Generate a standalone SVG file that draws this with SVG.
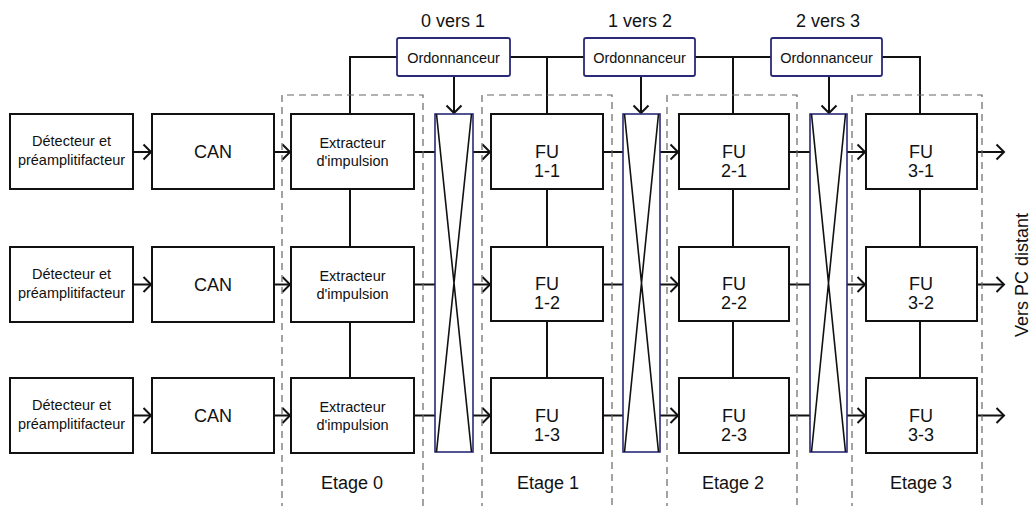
<svg xmlns="http://www.w3.org/2000/svg" width="1032" height="506" viewBox="0 0 1032 506">
<style>
.box{fill:#fff;stroke:#111;stroke-width:2}
.ordo{fill:#fff;stroke:#2a2a78;stroke-width:1.8}
.xbar{fill:#fff;stroke:#2a2a78;stroke-width:1.6}
.diag{stroke:#111;stroke-width:1.6;fill:none}
.ln{stroke:#111;stroke-width:2;fill:none}
.arr{stroke:#111;stroke-width:2;fill:none;marker-end:url(#ah)}
.dash{stroke:#666;stroke-width:1.2;fill:none;stroke-dasharray:7,5}
text{font-family:"Liberation Sans",Arial,sans-serif;fill:#111;text-anchor:middle}
.s{font-size:14.5px}
.m{font-size:18px}
</style>
<defs>
<marker id="ah" markerUnits="userSpaceOnUse" markerWidth="12" markerHeight="18" refX="9" refY="9" orient="auto">
<path d="M1.5,1.5 L9,9 L1.5,16.5" fill="none" stroke="#111" stroke-width="2"/>
</marker>
</defs>
<rect width="1032" height="506" fill="#fff"/>

<g id="transfer-labels">
<text class="m" x="453" y="27">0 vers 1</text>
<text class="m" x="640" y="27">1 vers 2</text>
<text class="m" x="828" y="27">2 vers 3</text>
<text class="m" transform="translate(1028,275) rotate(-90)">Vers PC distant</text>
</g>

<g id="connectors">
<path class="ln" d="M397,57 H350 V114"/>
<path class="ln" d="M510,57 H584 M547,57 V114"/>
<path class="ln" d="M695,57 H771 M733,57 V114"/>
<path class="ln" d="M882,57 H920 V114"/>
<path class="arr" d="M454,77 V113"/>
<path class="arr" d="M641,76 V113"/>
<path class="arr" d="M829,76 V113"/>
<path class="ln" d="M350,189 V247 M350,322 V378"/>
<path class="ln" d="M547,189 V247 M547,321 V378"/>
<path class="ln" d="M733,189 V247 M733,321 V378"/>
<path class="ln" d="M920,189 V247 M920,321 V378"/>

<path class="arr" d="M133,152 H151"/>
<path class="arr" d="M274,152 H290"/>
<path class="ln" d="M414,152 H435"/>
<path class="arr" d="M473,152 H490"/>
<path class="ln" d="M603,152 H623"/>
<path class="arr" d="M660,152 H678"/>
<path class="ln" d="M789,152 H810"/>
<path class="arr" d="M847,152 H865"/>
<path class="arr" d="M977,152 H1004"/>

<path class="arr" d="M133,284.5 H151"/>
<path class="arr" d="M274,284.5 H290"/>
<path class="ln" d="M414,284.5 H435"/>
<path class="arr" d="M473,284.5 H490"/>
<path class="ln" d="M603,284.5 H623"/>
<path class="arr" d="M660,284.5 H678"/>
<path class="ln" d="M789,284.5 H810"/>
<path class="arr" d="M847,284.5 H865"/>
<path class="arr" d="M977,284.5 H1004"/>

<path class="arr" d="M133,415.5 H151"/>
<path class="arr" d="M274,415.5 H290"/>
<path class="ln" d="M414,415.5 H435"/>
<path class="arr" d="M473,415.5 H490"/>
<path class="ln" d="M603,415.5 H623"/>
<path class="arr" d="M660,415.5 H678"/>
<path class="ln" d="M789,415.5 H810"/>
<path class="arr" d="M847,415.5 H865"/>
<path class="arr" d="M977,415.5 H1004"/>
</g>

<g id="stages">
<path class="dash" d="M282,510 V95 H423 V510"/>
<path class="dash" d="M482,510 V95 H612 V510"/>
<path class="dash" d="M667,510 V95 H797 V510"/>
<path class="dash" d="M852,510 V95 H982 V510"/>
<text class="m" x="352" y="489">Etage 0</text>
<text class="m" x="548" y="489">Etage 1</text>
<text class="m" x="733" y="489">Etage 2</text>
<text class="m" x="921" y="489">Etage 3</text>
</g>

<g id="ordo-0-1"><rect class="ordo" x="397" y="38" width="113" height="38" rx="2"/><text class="s" x="453.5" y="62.5">Ordonnanceur</text></g>
<g id="ordo-1-2"><rect class="ordo" x="584" y="38" width="111" height="38" rx="2"/><text class="s" x="639.5" y="62.5">Ordonnanceur</text></g>
<g id="ordo-2-3"><rect class="ordo" x="771" y="38" width="111" height="38" rx="2"/><text class="s" x="826.5" y="62.5">Ordonnanceur</text></g>

<g id="xbar-0-1"><rect class="xbar" x="435" y="114" width="38" height="338"/><path class="diag" d="M436.5,114 L471.5,452 M471.5,114 L436.5,452"/></g>
<g id="xbar-1-2"><rect class="xbar" x="623" y="114" width="37" height="338"/><path class="diag" d="M624.5,114 L658.5,452 M658.5,114 L624.5,452"/></g>
<g id="xbar-2-3"><rect class="xbar" x="810" y="114" width="37" height="338"/><path class="diag" d="M811.5,114 L845.5,452 M845.5,114 L811.5,452"/></g>

<g id="det-1"><rect class="box" x="10" y="114" width="123" height="75"/><text class="s" x="71.5" y="145.5">Détecteur et</text><text class="s" x="71.5" y="164.5">préamplitifacteur</text></g>
<g id="det-2"><rect class="box" x="10" y="247" width="123" height="75"/><text class="s" x="71.5" y="278.5">Détecteur et</text><text class="s" x="71.5" y="297.5">préamplitifacteur</text></g>
<g id="det-3"><rect class="box" x="10" y="378" width="123" height="75"/><text class="s" x="71.5" y="409.5">Détecteur et</text><text class="s" x="71.5" y="428.5">préamplitifacteur</text></g>

<g id="can-1"><rect class="box" x="152" y="114" width="122" height="75"/><text class="m" x="213" y="157.5">CAN</text></g>
<g id="can-2"><rect class="box" x="152" y="247" width="122" height="75"/><text class="m" x="213" y="290.5">CAN</text></g>
<g id="can-3"><rect class="box" x="152" y="378" width="122" height="75"/><text class="m" x="213" y="421.5">CAN</text></g>

<g id="ext-1"><rect class="box" x="291" y="114" width="123" height="75"/><text class="s" x="352.5" y="147.5">Extracteur</text><text class="s" x="352.5" y="166">d'impulsion</text></g>
<g id="ext-2"><rect class="box" x="291" y="247" width="123" height="75"/><text class="s" x="352.5" y="280.5">Extracteur</text><text class="s" x="352.5" y="299">d'impulsion</text></g>
<g id="ext-3"><rect class="box" x="291" y="378" width="123" height="75"/><text class="s" x="352.5" y="411.5">Extracteur</text><text class="s" x="352.5" y="430">d'impulsion</text></g>

<g id="fu-1-1"><rect class="box" x="491" y="114" width="112" height="75"/><text class="m" x="547" y="158">FU</text><text class="m" x="547" y="177">1-1</text></g>
<g id="fu-1-2"><rect class="box" x="491" y="247" width="112" height="74"/><text class="m" x="547" y="290">FU</text><text class="m" x="547" y="309">1-2</text></g>
<g id="fu-1-3"><rect class="box" x="491" y="378" width="112" height="75"/><text class="m" x="547" y="422">FU</text><text class="m" x="547" y="441">1-3</text></g>

<g id="fu-2-1"><rect class="box" x="679" y="114" width="110" height="75"/><text class="m" x="734" y="158">FU</text><text class="m" x="734" y="177">2-1</text></g>
<g id="fu-2-2"><rect class="box" x="679" y="247" width="110" height="74"/><text class="m" x="734" y="290">FU</text><text class="m" x="734" y="309">2-2</text></g>
<g id="fu-2-3"><rect class="box" x="679" y="378" width="110" height="75"/><text class="m" x="734" y="422">FU</text><text class="m" x="734" y="441">2-3</text></g>

<g id="fu-3-1"><rect class="box" x="866" y="114" width="111" height="75"/><text class="m" x="921" y="158">FU</text><text class="m" x="921" y="177">3-1</text></g>
<g id="fu-3-2"><rect class="box" x="866" y="247" width="111" height="74"/><text class="m" x="921" y="290">FU</text><text class="m" x="921" y="309">3-2</text></g>
<g id="fu-3-3"><rect class="box" x="866" y="378" width="111" height="75"/><text class="m" x="921" y="422">FU</text><text class="m" x="921" y="441">3-3</text></g>
</svg>
